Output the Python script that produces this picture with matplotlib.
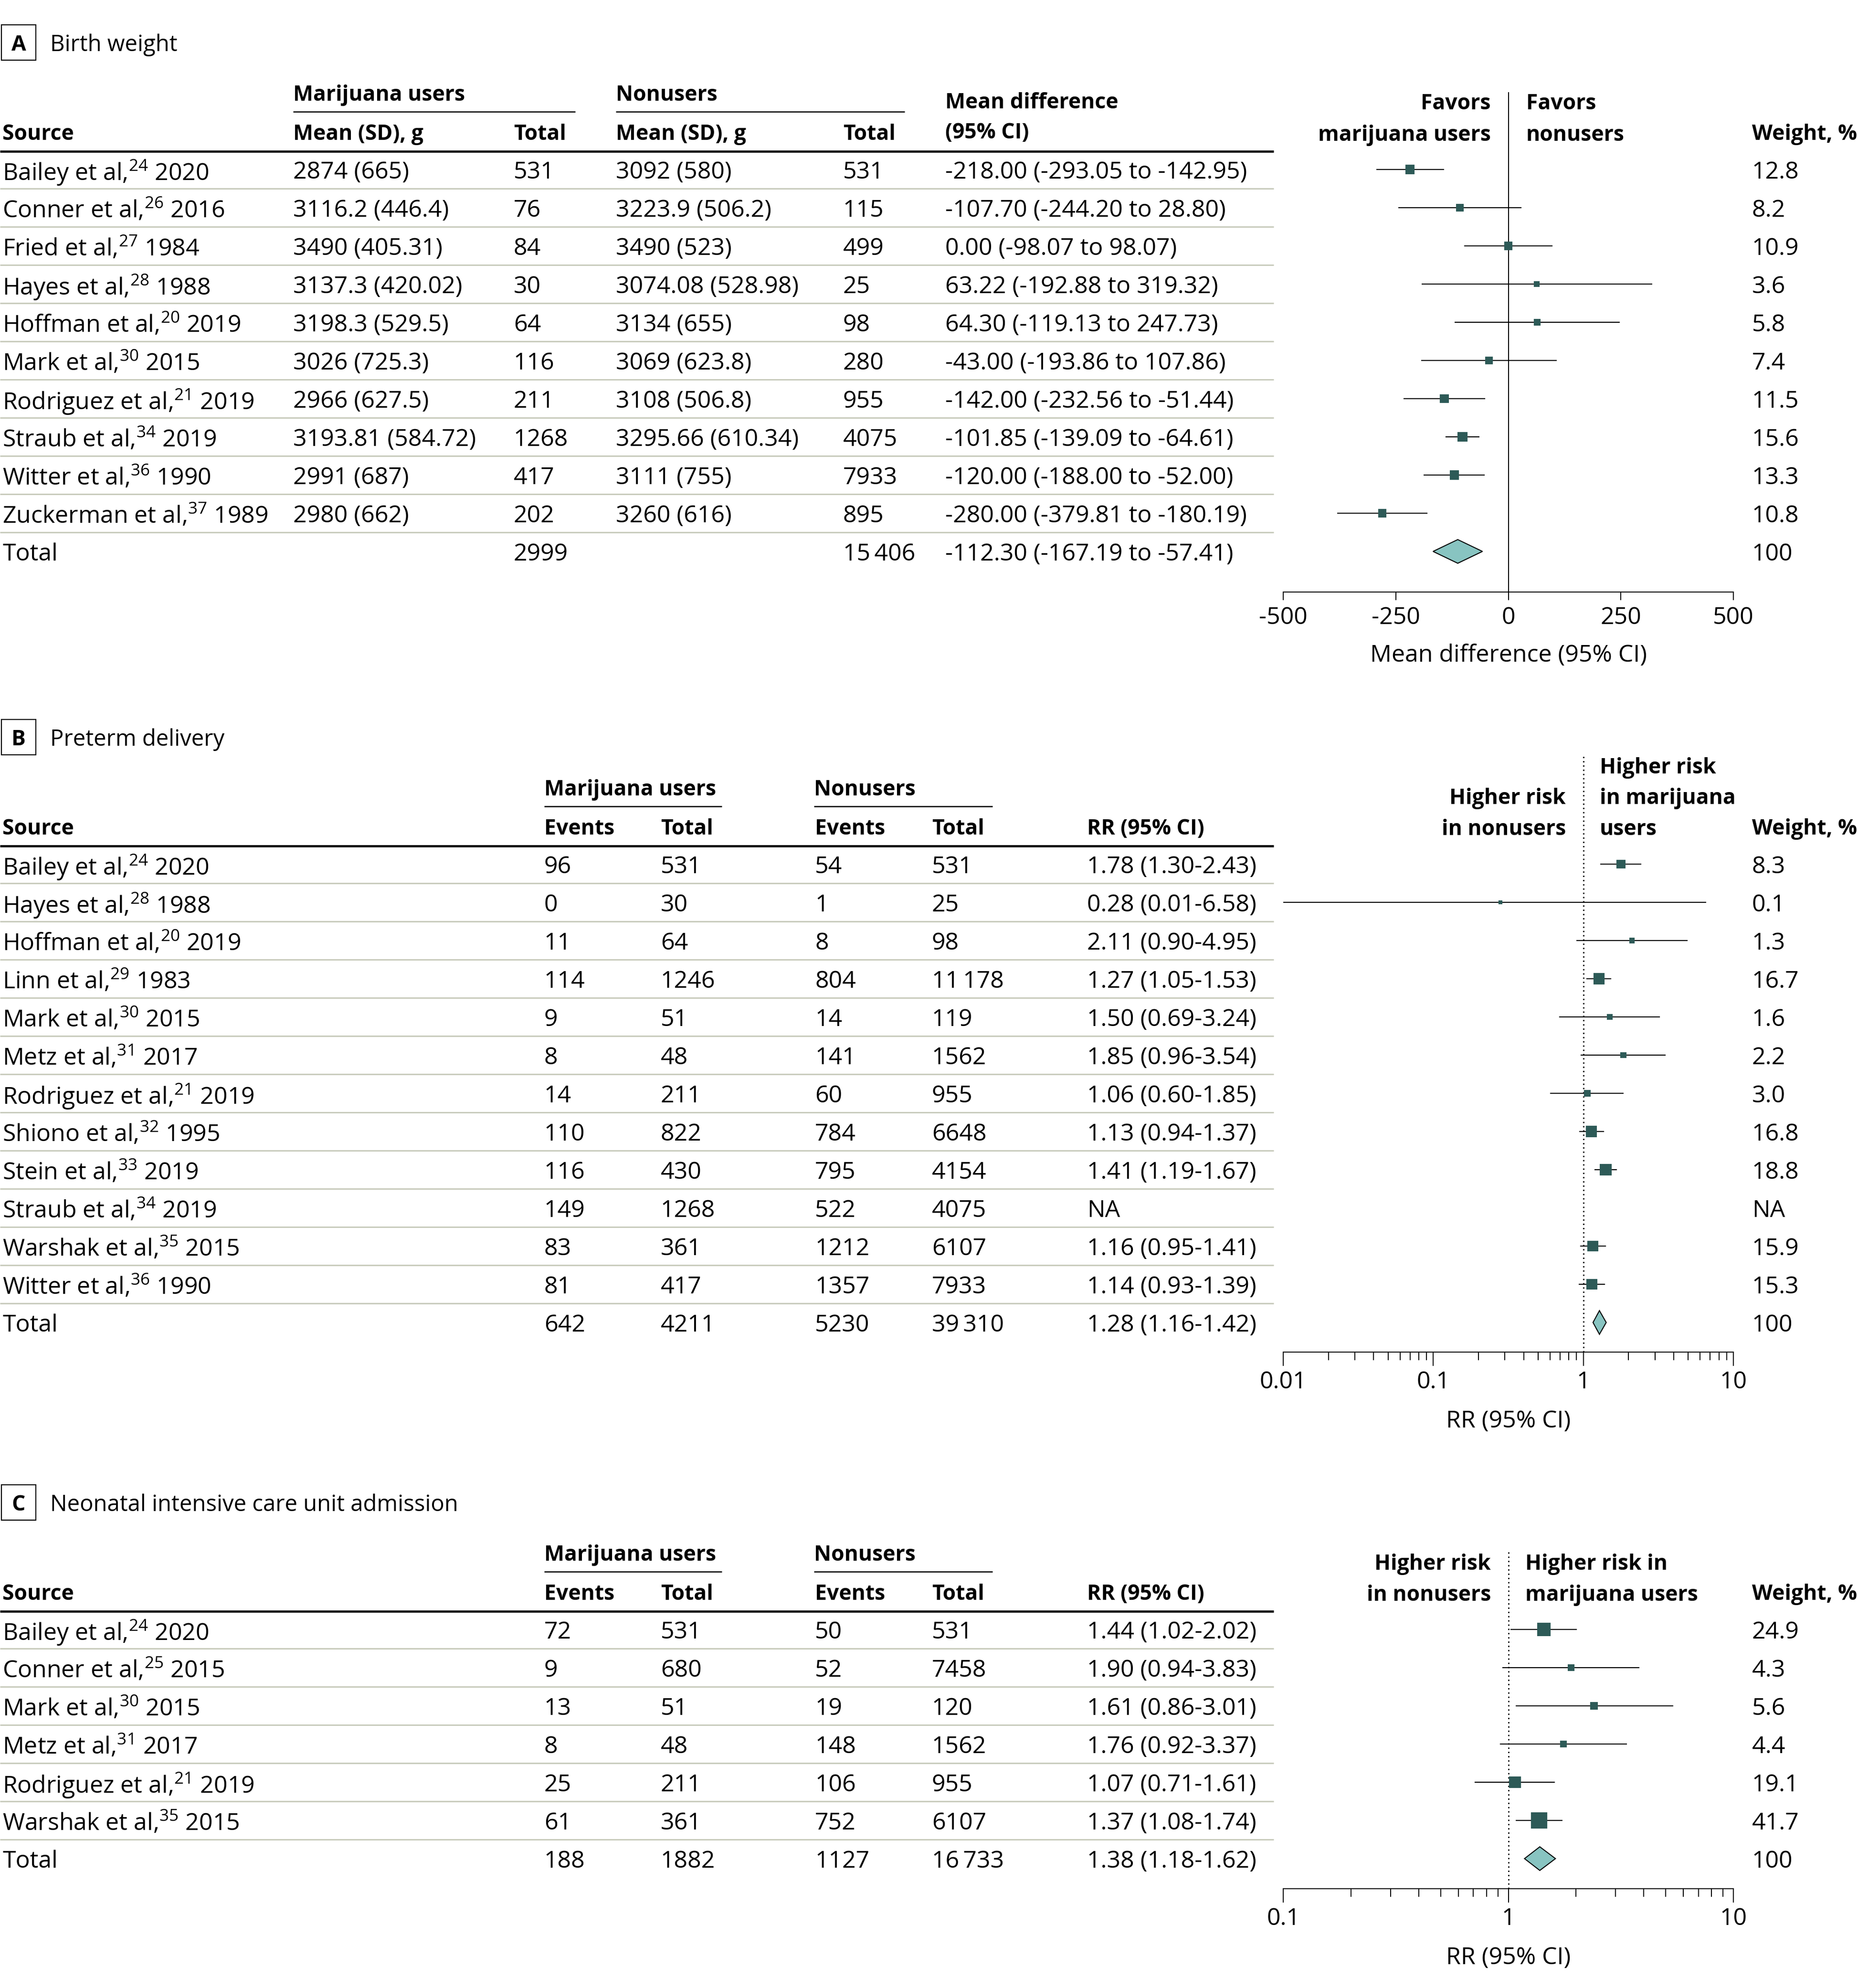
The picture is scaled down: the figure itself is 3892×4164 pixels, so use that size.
import matplotlib.pyplot as plt
from matplotlib.patches import Polygon, Rectangle
from matplotlib.ticker import LogLocator, NullFormatter
import numpy as np

plt.rcParams['font.family'] = ['Open Sans', 'DejaVu Sans']
plt.rcParams['mathtext.default'] = 'regular'
plt.rcParams['axes.unicode_minus'] = False

# ---------------- A. Birth weight ----------------
bw_source = ["Bailey et al,$^{24}$ 2020", "Conner et al,$^{26}$ 2016", "Fried et al,$^{27}$ 1984",
             "Hayes et al,$^{28}$ 1988", "Hoffman et al,$^{20}$ 2019", "Mark et al,$^{30}$ 2015",
             "Rodriguez et al,$^{21}$ 2019", "Straub et al,$^{34}$ 2019", "Witter et al,$^{36}$ 1990",
             "Zuckerman et al,$^{37}$ 1989"]
bw_mj_mean = ["2874 (665)", "3116.2 (446.4)", "3490 (405.31)", "3137.3 (420.02)", "3198.3 (529.5)",
              "3026 (725.3)", "2966 (627.5)", "3193.81 (584.72)", "2991 (687)", "2980 (662)"]
bw_mj_total = [531, 76, 84, 30, 64, 116, 211, 1268, 417, 202]
bw_nu_mean = ["3092 (580)", "3223.9 (506.2)", "3490 (523)", "3074.08 (528.98)", "3134 (655)",
              "3069 (623.8)", "3108 (506.8)", "3295.66 (610.34)", "3111 (755)", "3260 (616)"]
bw_nu_total = [531, 115, 499, 25, 98, 280, 955, 4075, 7933, 895]
bw_md = [-218.00, -107.70, 0.00, 63.22, 64.30, -43.00, -142.00, -101.85, -120.00, -280.00]
bw_lo = [-293.05, -244.20, -98.07, -192.88, -119.13, -193.86, -232.56, -139.09, -188.00, -379.81]
bw_hi = [-142.95, 28.80, 98.07, 319.32, 247.73, 107.86, -51.44, -64.61, -52.00, -180.19]
bw_weight = [12.8, 8.2, 10.9, 3.6, 5.8, 7.4, 11.5, 15.6, 13.3, 10.8]
bw_pooled = (-112.30, -167.19, -57.41)
bw_totals = (2999, 15406)

# ---------------- B. Preterm delivery ----------------
pt_source = ["Bailey et al,$^{24}$ 2020", "Hayes et al,$^{28}$ 1988", "Hoffman et al,$^{20}$ 2019",
             "Linn et al,$^{29}$ 1983", "Mark et al,$^{30}$ 2015", "Metz et al,$^{31}$ 2017",
             "Rodriguez et al,$^{21}$ 2019", "Shiono et al,$^{32}$ 1995", "Stein et al,$^{33}$ 2019",
             "Straub et al,$^{34}$ 2019", "Warshak et al,$^{35}$ 2015", "Witter et al,$^{36}$ 1990"]
pt_mj_events = [96, 0, 11, 114, 9, 8, 14, 110, 116, 149, 83, 81]
pt_mj_total = [531, 30, 64, 1246, 51, 48, 211, 822, 430, 1268, 361, 417]
pt_nu_events = [54, 1, 8, 804, 14, 141, 60, 784, 795, 522, 1212, 1357]
pt_nu_total = [531, 25, 98, 11178, 119, 1562, 955, 6648, 4154, 4075, 6107, 7933]
pt_rr = [1.78, 0.28, 2.11, 1.27, 1.50, 1.85, 1.06, 1.13, 1.41, np.nan, 1.16, 1.14]
pt_lo = [1.30, 0.01, 0.90, 1.05, 0.69, 0.96, 0.60, 0.94, 1.19, np.nan, 0.95, 0.93]
pt_hi = [2.43, 6.58, 4.95, 1.53, 3.24, 3.54, 1.85, 1.37, 1.67, np.nan, 1.41, 1.39]
pt_weight = [8.3, 0.1, 1.3, 16.7, 1.6, 2.2, 3.0, 16.8, 18.8, np.nan, 15.9, 15.3]
pt_pooled = (1.28, 1.16, 1.42)
pt_totals = (642, 4211, 5230, 39310)

# ---------------- C. NICU admission ----------------
nc_source = ["Bailey et al,$^{24}$ 2020", "Conner et al,$^{25}$ 2015", "Mark et al,$^{30}$ 2015",
             "Metz et al,$^{31}$ 2017", "Rodriguez et al,$^{21}$ 2019", "Warshak et al,$^{35}$ 2015"]
nc_mj_events = [72, 9, 13, 8, 25, 61]
nc_mj_total = [531, 680, 51, 48, 211, 361]
nc_nu_events = [50, 52, 19, 148, 106, 752]
nc_nu_total = [531, 7458, 120, 1562, 955, 6107]
nc_rr_label = ["1.44 (1.02-2.02)", "1.90 (0.94-3.83)", "1.61 (0.86-3.01)",
               "1.76 (0.92-3.37)", "1.07 (0.71-1.61)", "1.37 (1.08-1.74)"]
# plotted marks (Mark et al is drawn off its label)
nc_rr = [1.44, 1.90, 2.40, 1.76, 1.07, 1.37]
nc_lo = [1.02, 0.94, 1.08, 0.92, 0.71, 1.08]
nc_hi = [2.02, 3.83, 5.40, 3.37, 1.61, 1.74]
nc_weight = [24.9, 4.3, 5.6, 4.4, 19.1, 41.7]
nc_pooled = (1.38, 1.18, 1.62)
nc_totals = (188, 1882, 1127, 16733)

# ---------------- layout ----------------
W, H, DPI = 3892, 4164, 100
FS = 36
FS_BOLD = 32
BOX_COLOR = '#2d5a57'
DIAMOND_COLOR = '#88c4c1'
SEP_COLOR = '#c9ccbd'
ROW_H = 80
AX_LEFT, AX_RIGHT = 2688, 3631
TABLE_RIGHT = 2668
WEIGHT_X = 3670

fig = plt.figure(figsize=(W / DPI, H / DPI), dpi=DPI)
base = fig.add_axes([0, 0, 1, 1])
base.set_xlim(0, W)
base.set_ylim(H, 0)
base.axis('off')


def txt(x, y, s, ha='left', bold=False, size=None):
    if size is None:
        size = FS_BOLD if bold else FS
    base.text(x, y, s, ha=ha, va='center_baseline', fontsize=size,
              fontweight='bold' if bold else 'normal')


def hline(x1, x2, y, color='black', lw=1.5):
    base.plot([x1, x2], [y, y], color=color, lw=lw, solid_capstyle='butt')


def fmt_n(n):
    if n >= 10000:
        return f"{n:,}".replace(",", "\u2009")
    return str(n)


def panel_title(letter, title, y0):
    y = y0 - 266
    base.add_patch(Rectangle((3, y - 37), 72, 74, fill=False, lw=1.6, edgecolor='black'))
    txt(39, y, letter, ha='center', bold=True, size=32)
    txt(105, y, title, size=34)


def draw_table(y0, col_x, groups, headers, cells, total_cells):
    for x1, x2, label in groups:
        txt(x1, y0 - 161, label, bold=True)
        hline(x1, x2, y0 - 121, lw=1.8)
    for x, h in zip(col_x, headers):
        if h:
            txt(x, y0 - 79, h, bold=True)
    hline(0, TABLE_RIGHT, y0 - 38, lw=3.3)
    n = len(cells)
    for i, row in enumerate(cells + [total_cells]):
        y = y0 + i * ROW_H
        for x, s in zip(col_x, row):
            if s:
                txt(x, y, s)
        if i < n:
            hline(0, TABLE_RIGHT, y + ROW_H / 2, color=SEP_COLOR, lw=2.2)


def draw_weights(y0, weights):
    txt(WEIGHT_X, y0 - 79, "Weight, %", bold=True)
    for i, w in enumerate(weights):
        txt(WEIGHT_X, y0 + i * ROW_H, "NA" if np.isnan(w) else f"{w:.1f}")
    txt(WEIGHT_X, y0 + len(weights) * ROW_H, "100")


def forest(y0, top_px, axis_px, est, lo, hi, weights, pooled, size_fn, log=False):
    ax = fig.add_axes([AX_LEFT / W, 1 - axis_px / H, (AX_RIGHT - AX_LEFT) / W, (axis_px - top_px) / H])
    ax.set_ylim((axis_px - y0) / ROW_H, (top_px - y0) / ROW_H)
    ax.patch.set_visible(False)
    for s in ['top', 'right', 'left']:
        ax.spines[s].set_visible(False)
    ax.spines['bottom'].set_linewidth(1.5)
    ax.set_yticks([])
    if log:
        ax.set_xscale('log')
        ax.axvline(1, color='black', lw=2, linestyle=(0, (1, 2.2)))
    else:
        ax.axvline(0, color='black', lw=1.5)
    est, lo, hi, weights = map(np.asarray, (est, lo, hi, weights))
    rows = np.arange(len(est))
    ok = ~np.isnan(est)
    ax.hlines(rows[ok], lo[ok], hi[ok], color='black', lw=1.6)
    side = size_fn(weights[ok]) * 72 / DPI
    ax.scatter(est[ok], rows[ok], s=side ** 2, marker='s', color=BOX_COLOR, linewidths=0, zorder=3)
    pe, pl, ph = pooled
    yt = len(est)
    h = 0.31
    ax.add_patch(Polygon([(pl, yt), (pe, yt - h), (ph, yt), (pe, yt + h)], closed=True,
                         facecolor=DIAMOND_COLOR, edgecolor='black', lw=1.5, zorder=3))
    ax.tick_params(axis='x', which='both', width=1.5, labelsize=FS, direction='out')
    return ax


# ---------------- panel A ----------------
y0 = 355
panel_title("A", "Birth weight", y0)
col_a = [5, 614, 1076, 1290, 1766, 1980]
cells = [[s, m1, str(t1), m2, str(t2), f"{d:.2f} ({l:.2f} to {h:.2f})"]
         for s, m1, t1, m2, t2, d, l, h in zip(bw_source, bw_mj_mean, bw_mj_total, bw_nu_mean,
                                               bw_nu_total, bw_md, bw_lo, bw_hi)]
total = ["Total", "", fmt_n(bw_totals[0]), "", fmt_n(bw_totals[1]),
         f"{bw_pooled[0]:.2f} ({bw_pooled[1]:.2f} to {bw_pooled[2]:.2f})"]
draw_table(y0, col_a, [(614, 1205, "Marijuana users"), (1290, 1895, "Nonusers")],
           ["Source", "Mean (SD), g", "Total", "Mean (SD), g", "Total", ""], cells, total)
txt(1980, y0 - 145, "Mean difference", bold=True)
txt(1980, y0 - 82, "(95% CI)", bold=True)
txt(3123, y0 - 143, "Favors", ha='right', bold=True)
txt(3123, y0 - 77, "marijuana users", ha='right', bold=True)
txt(3197, y0 - 143, "Favors", bold=True)
txt(3197, y0 - 77, "nonusers", bold=True)
draw_weights(y0, bw_weight)
axA = forest(y0, 193, 1240, bw_md, bw_lo, bw_hi, bw_weight, bw_pooled,
             lambda w: 4 + 4.2 * np.sqrt(w))
axA.set_xlim(-500, 500)
axA.set_xticks([-500, -250, 0, 250, 500])
axA.tick_params(axis='x', length=12, pad=9)
txt((AX_LEFT + AX_RIGHT) / 2, 1240 + 127, "Mean difference (95% CI)", ha='center')

# ---------------- panel B ----------------
y0 = 1810
panel_title("B", "Preterm delivery", y0)
col_b = [5, 1140, 1384, 1707, 1952, 2277]


def rr_text(r, l, h):
    return "NA" if np.isnan(r) else f"{r:.2f} ({l:.2f}-{h:.2f})"


cells = [[s, str(a), str(b), str(c), fmt_n(d), rr_text(r, l, h)]
         for s, a, b, c, d, r, l, h in zip(pt_source, pt_mj_events, pt_mj_total, pt_nu_events,
                                           pt_nu_total, pt_rr, pt_lo, pt_hi)]
total = ["Total"] + [fmt_n(v) for v in pt_totals] + [rr_text(*pt_pooled)]
draw_table(y0, col_b, [(1140, 1512, "Marijuana users"), (1705, 2079, "Nonusers")],
           ["Source", "Events", "Total", "Events", "Total", "RR (95% CI)"], cells, total)
txt(3280, y0 - 143, "Higher risk", ha='right', bold=True)
txt(3280, y0 - 78, "in nonusers", ha='right', bold=True)
txt(3351, y0 - 207, "Higher risk", bold=True)
txt(3351, y0 - 143, "in marijuana", bold=True)
txt(3351, y0 - 78, "users", bold=True)
draw_weights(y0, pt_weight)
axB = forest(y0, 1583, 2832, pt_rr, pt_lo, pt_hi, pt_weight, pt_pooled,
             lambda w: 7 + 4 * np.sqrt(w), log=True)
axB.set_xlim(0.01, 10)
axB.set_xticks([0.01, 0.1, 1, 10], labels=["0.01", "0.1", "1", "10"])
axB.xaxis.set_minor_locator(LogLocator(base=10, subs=np.arange(2, 10)))
axB.xaxis.set_minor_formatter(NullFormatter())
axB.tick_params(axis='x', which='major', length=21, pad=7)
axB.tick_params(axis='x', which='minor', length=12)
txt((AX_LEFT + AX_RIGHT) / 2, 2832 + 139, "RR (95% CI)", ha='center')

# ---------------- panel C ----------------
y0 = 3413
panel_title("C", "Neonatal intensive care unit admission", y0)
cells = [[s, str(a), str(b), str(c), fmt_n(d), lab]
         for s, a, b, c, d, lab in zip(nc_source, nc_mj_events, nc_mj_total, nc_nu_events,
                                       nc_nu_total, nc_rr_label)]
total = ["Total"] + [fmt_n(v) for v in nc_totals] + [rr_text(*nc_pooled)]
draw_table(y0, col_b, [(1140, 1512, "Marijuana users"), (1705, 2079, "Nonusers")],
           ["Source", "Events", "Total", "Events", "Total", "RR (95% CI)"], cells, total)
txt(3123, y0 - 142, "Higher risk", ha='right', bold=True)
txt(3123, y0 - 77, "in nonusers", ha='right', bold=True)
txt(3195, y0 - 142, "Higher risk in", bold=True)
txt(3195, y0 - 77, "marijuana users", bold=True)
draw_weights(y0, nc_weight)
axC = forest(y0, 3250, 3956, nc_rr, nc_lo, nc_hi, nc_weight, nc_pooled,
             lambda w: 5 + 4.5 * np.sqrt(w), log=True)
axC.set_xlim(0.1, 10)
axC.set_xticks([0.1, 1, 10], labels=["0.1", "1", "10"])
axC.xaxis.set_minor_locator(LogLocator(base=10, subs=np.arange(2, 10)))
axC.xaxis.set_minor_formatter(NullFormatter())
axC.tick_params(axis='x', which='major', length=21, pad=7)
axC.tick_params(axis='x', which='minor', length=12)
txt((AX_LEFT + AX_RIGHT) / 2, 3956 + 139, "RR (95% CI)", ha='center')

fig.savefig("out.png", dpi=DPI)
